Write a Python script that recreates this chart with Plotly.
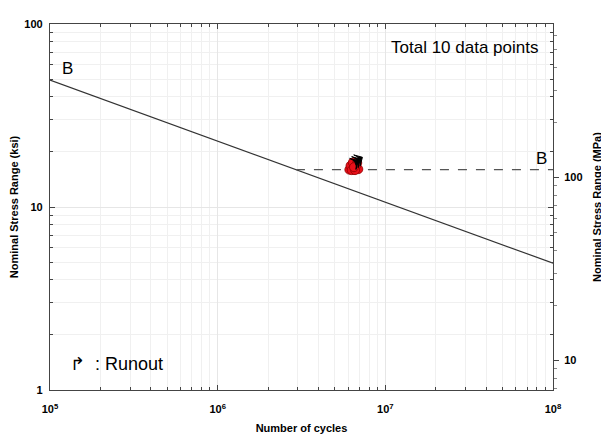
import numpy as np
import plotly.graph_objects as go

# S-N curve category B (AASHTO): A = 120e8 ksi^3, CAFL = 16 ksi
cat_label = "B"
cat_A = 120e8
cat_cafl = 16.0
curve_N = [1e5, 1e8]
# test data (cycles, ksi)
test_N = [6.1e6, 6.5e6, 6.9e6, 6.2e6, 6.7e6, 6.4e6, 6.8e6, 6.3e6, 6.6e6, 6.5e6]
test_S = [16.0, 16.0, 16.1, 16.8, 16.8, 17.5, 17.4, 15.9, 15.9, 16.5]
runout_N = [6.9e6, 7.1e6, 7.3e6]
runout_S = [17.9, 18.3, 18.7]
ksi_to_mpa = 6.895

x_ticks = [1e5, 1e6, 1e7, 1e8]
x_ticktext = ["<b>10<sup>5</sup></b>", "<b>10<sup>6</sup></b>", "<b>10<sup>7</sup></b>", "<b>10<sup>8</sup></b>"]
y_ticks = [1, 10, 100]
y_ticktext = ["<b>1</b>", "<b>10</b>", "<b>100</b>"]
y2_ticks = [10, 100]
y2_ticktext = ["<b>10</b>", "<b>100</b>"]

curve_S = [(cat_A / n) ** (1 / 3) for n in curve_N]
N_cafl = cat_A / cat_cafl ** 3

fig = go.Figure()
fig.add_trace(go.Scatter(x=curve_N, y=curve_S, mode="lines",
                         line=dict(color="#333333", width=1.2), showlegend=False))
fig.add_trace(go.Scatter(x=[N_cafl, curve_N[-1]], y=[cat_cafl, cat_cafl], mode="lines",
                         line=dict(color="#555555", width=1.3, dash="dash"), showlegend=False))
fig.add_trace(go.Scatter(x=test_N, y=test_S, mode="markers",
                         marker=dict(color="#e8101a", size=9, line=dict(color="#900000", width=0.8)),
                         showlegend=False))
fig.add_trace(go.Scatter(x=runout_N, y=runout_S, mode="markers",
                         marker=dict(symbol="arrow-wide", angle=60, size=9, color="black",
                                     line=dict(color="black", width=1)),
                         showlegend=False, hoverinfo="skip"))
# invisible trace for right axis
fig.add_trace(go.Scatter(x=[1e5], y=[100], yaxis="y2", mode="markers",
                         marker=dict(opacity=0), showlegend=False, hoverinfo="skip"))

tickfont = dict(family="Liberation Sans, Arial", size=11, color="black")
titlefont = dict(family="Liberation Sans, Arial", size=11, color="black")

fig.update_layout(
    width=601, height=430,
    margin=dict(l=42, r=56, t=16, b=48),
    paper_bgcolor="white", plot_bgcolor="white",
    xaxis=dict(type="log", range=[5, 8], tickvals=x_ticks, ticktext=x_ticktext, automargin=False,
               tickfont=tickfont, showline=True, linecolor="#444", linewidth=1.2, mirror="ticks",
               ticks="inside", ticklen=5, tickcolor="#444", ticklabelstandoff=9,
               showgrid=True, gridcolor="#e6e6e6",
               minor=dict(dtick="D1", ticks="inside", ticklen=3, tickcolor="#444",
                          showgrid=True, gridcolor="#f0f0f0"),
               title=dict(text="<b>Number of cycles</b>", font=titlefont, standoff=10)),
    yaxis=dict(type="log", range=[0, 2], tickvals=y_ticks, ticktext=y_ticktext, automargin=False,
               tickfont=tickfont, showline=True, linecolor="#444", linewidth=1.2, mirror="ticks",
               ticks="inside", ticklen=5, tickcolor="#444", ticklabelstandoff=4,
               showgrid=True, gridcolor="#e6e6e6",
               minor=dict(dtick="D1", ticks="inside", ticklen=3, tickcolor="#444",
                          showgrid=True, gridcolor="#f0f0f0"),
               title=dict(text="<b>Nominal Stress Range (ksi)</b>", font=titlefont, standoff=8)),
    yaxis2=dict(type="log", overlaying="y", side="right", automargin=False,
                range=[np.log10(ksi_to_mpa), np.log10(100 * ksi_to_mpa)],
                tickvals=y2_ticks, ticktext=y2_ticktext, tickfont=tickfont,
                ticks="outside", ticklen=5, tickcolor="#444", ticklabelstandoff=3,
                showgrid=False, showline=False,
                minor=dict(dtick="D1", ticks="outside", ticklen=3, tickcolor="#888"),
                title=dict(text="<b>Nominal Stress Range (MPa)</b>", font=titlefont, standoff=11)),
)

fig.add_annotation(x=np.log10(1.15e5), y=np.log10(curve_S[0]), xref="x", yref="y", text=cat_label,
                   showarrow=False, xanchor="left", yanchor="bottom",
                   font=dict(family="Liberation Sans, Arial", size=17, color="black"))
fig.add_annotation(x=np.log10(0.95e8), y=np.log10(cat_cafl), xref="x", yref="y", text=cat_label,
                   showarrow=False, xanchor="right", yanchor="bottom",
                   font=dict(family="Liberation Sans, Arial", size=17, color="black"))
fig.add_annotation(x=0.975, y=0.935, xref="paper", yref="paper", text="Total 10 data points",
                   showarrow=False, xanchor="right", yanchor="middle",
                   font=dict(family="Liberation Sans, Arial", size=17, color="black"))
fig.add_annotation(x=0.035, y=0.07, xref="paper", yref="paper", text="↱  : Runout",
                   showarrow=False, xanchor="left", yanchor="middle",
                   font=dict(family="Liberation Sans, Arial", size=18, color="black"))

fig.write_html("out.html")
